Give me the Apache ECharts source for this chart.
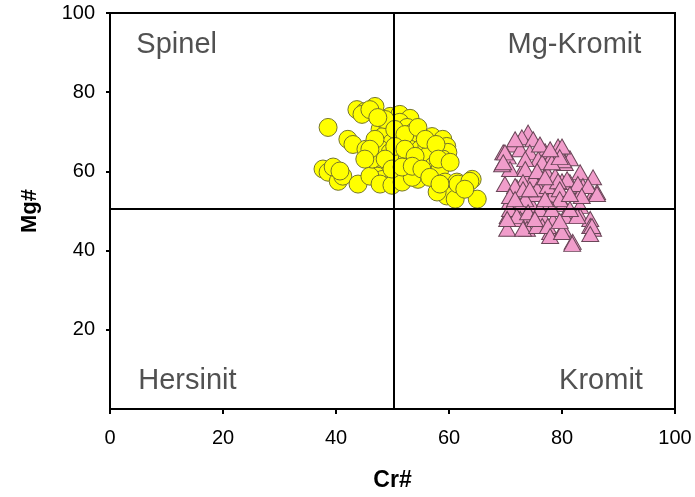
<!DOCTYPE html>
<html>
<head>
<meta charset="utf-8">
<script src="https://cdn.jsdelivr.net/npm/echarts@6/dist/echarts.min.js"></script>
<style>html,body{margin:0;padding:0;background:#fff}#c{width:695px;height:497px}</style>
</head>
<body>
<div id="c"></div>
<script>
// Spinel (yellow circles): [Cr#, Mg#]
var spinelPoints = [
 [38.6,71.1],[43.7,75.6],[45.1,75.1],[46.9,76.4],[44.6,74.4],[46.0,75.6],[42.1,68.1],[43.0,66.8],
 [49.6,73.9],[51.3,74.4],[53.1,73.4],[47.8,70.6],[49.2,71.4],[51.3,72.4],[52.6,71.1],[53.6,69.8],
 [54.9,68.8],[57.0,68.8],[58.9,68.1],[48.3,68.8],[49.9,67.3],[51.9,68.1],[53.6,67.3],[47.8,65.6],
 [49.6,64.8],[51.3,63.8],[53.1,65.6],[54.9,65.6],[56.1,66.3],[57.9,65.6],[59.6,66.3],[59.8,64.8],
 [47.4,62.3],[49.0,61.3],[50.8,62.3],[52.6,63.1],[54.3,62.3],[56.1,63.8],[57.2,61.3],[58.9,63.1],
 [47.3,58.8],[48.3,58.0],[50.4,58.8],[52.6,59.8],[54.5,58.0],[57.5,60.1],[58.4,60.6],[59.3,57.3],
 [61.4,57.3],[64.1,58.0],[65.0,53.0],[59.6,53.8],[61.1,53.0],[37.7,60.6],[38.6,59.8],[40.4,57.5],
 [41.2,58.8],[43.9,56.8],[46.0,58.8],[39.5,61.1],[40.7,60.1],[45.3,65.6],[46.4,63.1],[47.8,56.8],
 [49.9,56.5],[51.7,57.3],[53.5,58.5],[57.9,54.8],[61.6,56.8],[63.7,57.5],
 [48.7,73.1],[50.4,70.6],[52.2,69.3],[54.5,71.1],[55.8,68.1],[57.7,66.8],[50.4,66.3],[52.2,65.6],
 [54.0,63.8],[48.7,63.1],[49.9,60.6],[51.7,61.1],[53.5,61.3],[55.2,60.6],[56.6,58.5],[58.1,63.1],
 [60.2,62.3],[46.9,68.1],[46.0,65.6],[45.1,63.1],[58.4,56.8],[62.8,55.5],[47.4,73.6]
];
// Kromit (pink triangles): [Cr#, Mg#]
var kromitPoints = [
 [74.0,69.8],[72.9,68.6],[74.9,68.1],[71.3,66.8],[69.6,64.8],[70.4,63.8],[72.6,65.6],[74.3,64.8],
 [77.0,65.1],[79.3,66.3],[79.6,64.8],[77.9,63.1],[75.8,63.1],[73.1,60.6],[70.8,60.6],[73.8,58.8],
 [74.9,58.0],[77.3,59.8],[78.8,58.8],[80.0,57.5],[83.2,59.8],[85.5,58.5],[81.4,57.3],[83.7,56.3],
 [83.2,54.3],[85.5,54.3],[79.6,55.0],[78.2,53.8],[71.3,54.3],[70.8,52.5],[72.6,51.3],[74.9,51.0],
 [77.3,51.0],[80.2,51.8],[83.2,51.3],[70.4,48.7],[72.6,48.0],[74.3,48.5],[76.5,48.7],[78.4,47.5],
 [80.9,48.7],[83.2,48.7],[85.0,48.0],[85.0,46.2],[73.8,45.5],[76.5,46.2],[77.9,44.7],[80.2,45.5],
 [81.9,42.2],[70.3,45.5],[69.4,61.8],[69.9,56.8],[72.0,56.0],[76.1,55.5],[75.2,54.3],[73.5,53.0],
 [80.5,62.1],[81.4,63.3],[80.2,62.8],[80.9,58.0],[86.2,54.8],[85.5,45.5],
 [73.5,63.1],[76.5,62.3],[78.2,62.3],[80.0,66.3],[79.6,63.6],[73.5,60.6],[75.6,60.1],[73.1,57.3],
 [71.7,56.3],[70.8,53.8],[73.1,55.5],[75.6,55.5],[77.5,56.3],[79.3,57.5],[79.6,55.5],[79.6,53.0],
 [82.8,56.8],[84.6,56.3],[86.2,54.3],[83.5,53.8],[70.8,50.5],[72.0,48.7],[74.0,49.7],[76.1,50.5],
 [78.2,50.5],[80.5,48.7],[82.7,48.7],[85.3,46.2],[85.0,44.2],[73.1,45.5],[75.6,46.2],[77.5,46.2],
 [77.9,43.7],[80.0,44.7],[81.8,41.7],[70.3,48.0],[69.9,64.8],[69.6,62.3],[71.7,68.1],[76.1,66.8],
 [77.9,65.6],[77.0,58.5],[74.3,55.5],[77.0,53.0],[81.4,54.3],[81.4,50.5],[71.7,53.0],[75.2,48.0],
 [79.6,47.5]
];
var xTicks = [0,20,40,60,80,100];
var yTicks = [0,20,40,60,80,100];
var quadrantLabels = [
 {name:'Spinel', value:[11.8,92]},
 {name:'Mg-Kromit', value:[82.2,92]},
 {name:'Hersinit', value:[13.7,7]},
 {name:'Kromit', value:[86.9,7]}
];
var boundaryCr = 50.3;
var boundaryMg = 50.5;

var chart = echarts.init(document.getElementById('c'));
var font = 'Liberation Sans, Arial, sans-serif';
chart.setOption({
  animation:false,
  grid:{left:110,right:20,top:13,bottom:86,show:true,borderColor:'#000',borderWidth:2},
  xAxis:{type:'value',min:xTicks[0],max:xTicks[xTicks.length-1],interval:20,name:'Cr#',nameLocation:'middle',nameGap:60,
    nameTextStyle:{fontFamily:font,fontSize:23,fontWeight:'bold',color:'#000'},
    axisLine:{lineStyle:{color:'#000',width:2}},axisTick:{inside:false,length:5,lineStyle:{color:'#000',width:2}},
    axisLabel:{fontFamily:font,fontSize:20,color:'#000',margin:19},splitLine:{show:false}},
  yAxis:{type:'value',min:yTicks[0],max:yTicks[yTicks.length-1],interval:20,name:'Mg#',nameLocation:'middle',nameGap:69,
    nameTextStyle:{fontFamily:font,fontSize:22,fontWeight:'bold',color:'#000'},
    axisLine:{lineStyle:{color:'#000',width:2}},axisTick:{inside:false,length:4,lineStyle:{color:'#000',width:2}},
    axisLabel:{fontFamily:font,fontSize:20,color:'#000',margin:15,showMinLabel:false},splitLine:{show:false}},
  series:[
    {type:'scatter',data:spinelPoints,symbol:'circle',symbolSize:18,
     itemStyle:{color:'#FFFF00',borderColor:'#75752a',borderWidth:1,opacity:1},
     markLine:{silent:true,symbol:'none',label:{show:false},lineStyle:{color:'#000',width:2,type:'solid'},
       data:[{xAxis:boundaryCr},{yAxis:boundaryMg}]}},
    {type:'scatter',data:kromitPoints,symbol:'triangle',symbolSize:[17,15],
     itemStyle:{color:'#F19DCB',borderColor:'#6a4658',borderWidth:1,opacity:1}},
    {type:'scatter',data:quadrantLabels,symbolSize:0,silent:true,
     label:{show:true,position:'inside',formatter:function(p){return p.name;},fontFamily:font,fontSize:29,color:'#262626'}}
  ]
});
</script>
</body>
</html>
